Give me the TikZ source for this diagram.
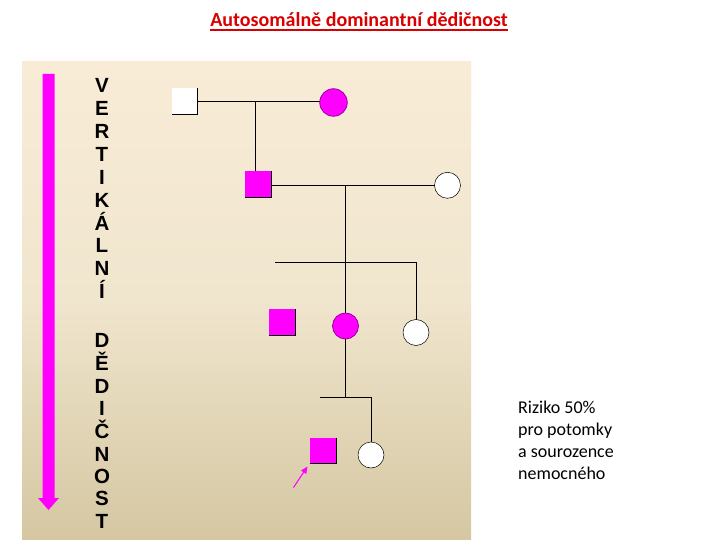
\documentclass[tikz,border=0pt]{standalone}
\usepackage{fontspec}
\setmainfont{Carlito}
\newfontfamily\lettersfont{Liberation Sans}
\usetikzlibrary{arrows.meta}
\definecolor{mag}{HTML}{FF00FF}
\definecolor{magdark}{HTML}{9A009A}
\definecolor{titlered}{HTML}{D80000}
\definecolor{bgtop}{HTML}{F8ECD7}
\definecolor{bgmid}{HTML}{F0E5CD}
\definecolor{bgbot}{HTML}{D5C7A2}
\begin{document}
\begin{tikzpicture}[x=1pt,y=-1pt,
  sq/.style={rectangle,minimum size=26pt,inner sep=0pt,outer sep=0pt},
  affsq/.style={sq,fill=mag},
  unsq/.style={sq,fill=white},
  circ/.style={circle,minimum size=26pt,inner sep=0pt,outer sep=0pt},
  affc/.style={circ,fill=mag,draw=magdark,line width=0.8pt},
  unc/.style={circ,fill=white,draw=black,line width=0.5pt},
  edge/.style={draw=black,line width=0.7pt},
  link/.style={draw=black,line width=0.9pt},
  letter/.style={font=\lettersfont\bfseries\fontsize{20.5}{20.5}\selectfont,inner sep=0pt,anchor=base},
]
\useasboundingbox (0,0) rectangle (720,540);
\fill[white] (0,0) rectangle (720,540);
% background panel
\shade[top color=bgtop,bottom color=bgbot,middle color=bgmid] (22,62) rectangle (471,540);

% title
\node[font=\bfseries\fontsize{20}{20}\selectfont,text=titlered,inner sep=0pt,anchor=base] (title) at (359,27) {Autosomálně dominantní dědičnost};
\draw[titlered,line width=1.4pt] ([yshift=-3pt]title.base west) -- ([yshift=-3pt]title.base east);

% big arrow
\fill[mag] (42.5,74) -- (54.5,74) -- (54.5,498) -- (59,498) -- (48.5,510) -- (38,498) -- (42.5,498) -- cycle;

% vertical letters
\foreach \l/\yy [count=\i] in {V/85,E/108,R/131,T/154,I/177,K/200,Á/223,L/245,N/268,Í/291,D/340,Ě/363,D/386,I/408,Č/431,N/454,O/476,S/498,T/521}
  \node[letter] (let\i) at (102,\yy+7.5) {\l};

% pedigree
\node[unsq] (I1) at (184.5,101.5) {};
\node[affc,minimum size=27.5pt] (I2) at (333.5,102.5) {};
\node[affsq] (II1) at (258,184.5) {};
\node[unc] (II2) at (447.5,185.3) {};
\node[affsq] (III1) at (282,322) {};
\node[affc] (III2) at (345.5,326) {};
\node[unc] (III3) at (416,332.5) {};
\node[affsq] (IV1) at (323,450.7) {};
\node[unc] (IV2) at (371,455) {};

\foreach \n in {I1,II1,III1,IV1}
  \draw[edge] (\n.north east) -- (\n.south east) -- (\n.south west);

% generation I
\coordinate (m1) at (255.7,101.7);
\draw[link] (I1.east |- m1) -- (I2.west |- m1);
\draw[link] (m1) -- (m1 |- II1.north);
% generation II
\coordinate (m2) at (345.7,185.3);
\coordinate (s2l) at (275,262.3);
\coordinate (s2r) at (416.3,262.3);
\coordinate (s2m) at (345.7,262.3);
\draw[link] (II1.east |- m2) -- (II2.west);
\draw[link] (m2) -- (s2m) -- (s2m |- III2.north);
\draw[link] (s2l) -- (s2r) -- (s2r |- III3.north);
% generation III
\coordinate (s3m) at (345.5,397.3);
\coordinate (s3l) at (320,397.3);
\coordinate (s3r) at (371,397.3);
\draw[link] (III2.south) -- (s3m);
\draw[link] (s3l) -- (s3r) -- (IV2.north);

% proband pointer
\coordinate (pa) at (293.5,487.5);
\coordinate (pb) at (307.5,466.5);
\draw[mag,line width=1pt,-{Triangle[length=7pt,width=6pt]}] (pa) -- (pb);

% risk text
\node[font=\fontsize{18}{22}\selectfont,align=left,inner sep=0pt,anchor=base west] (risk) at (518,479)
  {Riziko 50\%\\pro potomky\\a sourozence\\nemocného};
\end{tikzpicture}
\end{document}
